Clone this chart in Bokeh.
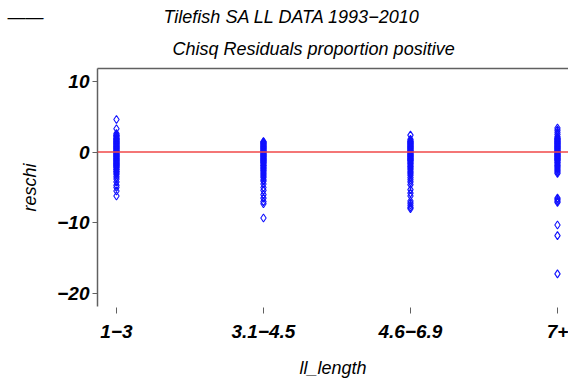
from bokeh.plotting import figure
from bokeh.models import (Span, Title, LinearAxis, FixedTicker, ColumnDataSource, Range1d)
from bokeh.embed import file_html
from bokeh.resources import INLINE

categories = ["1\u22123", "3.1\u22124.5", "4.6\u22126.9", "7+"]

res_1_3 = [4.6, 3.3, 2.6, 2.4, 2.3, 2.2, 2.0, 1.9, 1.8, 1.7, 1.6, 1.5, 1.4, 1.3, 1.2,
           1.1, 1.0, 0.9, 0.8, 0.7, 0.6, 0.5, 0.4, 0.3, 0.2, 0.1, 0.0, -0.1, -0.2,
           -0.3, -0.4, -0.5, -0.6, -0.7, -0.8, -0.9, -1.0, -1.1, -1.2, -1.3, -1.4,
           -1.5, -1.6, -1.7, -1.8, -1.9, -2.0, -2.1, -2.2, -2.4, -2.5, -2.7, -2.8,
           -3.0, -3.2, -3.5, -3.8, -4.2, -4.7, -5.0, -5.5, -6.2]
res_3_4 = [1.5, 1.4, 1.3, 1.2, 1.1, 1.0, 0.9, 0.8, 0.7, 0.6, 0.5, 0.4, 0.3, 0.2, 0.1,
           0.0, -0.1, -0.2, -0.3, -0.4, -0.5, -0.6, -0.7, -0.8, -0.9, -1.0, -1.1,
           -1.2, -1.3, -1.4, -1.5, -1.6, -1.8, -1.9, -2.0, -2.2, -2.3, -2.5, -2.6,
           -2.8, -3.0, -3.2, -3.4, -3.6, -3.9, -4.1, -4.5, -5.0, -5.4, -6.0, -6.5,
           -7.0, -7.3, -9.3]
res_4_6 = [2.4, 1.8, 1.6, 1.5, 1.4, 1.3, 1.2, 1.1, 1.0, 0.9, 0.8, 0.7, 0.6, 0.5, 0.4,
           0.3, 0.2, 0.1, 0.0, -0.1, -0.2, -0.3, -0.4, -0.5, -0.6, -0.7, -0.8, -0.9,
           -1.0, -1.1, -1.2, -1.3, -1.5, -1.6, -1.8, -2.0, -2.1, -2.3, -2.5, -2.7,
           -2.9, -3.1, -3.3, -3.6, -3.9, -4.2, -4.6, -5.3, -5.8, -6.2, -6.9, -7.2,
           -7.5, -7.8, -8.0]
res_7p = [3.4, 3.1, 2.8, 2.5, 2.2, 2.0, 1.9, 1.8, 1.7, 1.6, 1.5, 1.4, 1.3, 1.2, 1.1,
          1.0, 0.9, 0.8, 0.7, 0.6, 0.5, 0.4, 0.3, 0.2, 0.1, 0.0, -0.1, -0.2, -0.3,
          -0.4, -0.5, -0.6, -0.7, -0.8, -0.9, -1.0, -1.1, -1.2, -1.4, -1.5, -1.7,
          -1.9, -2.0, -2.2, -2.4, -2.6, -2.8, -3.0, -6.5, -6.7, -6.9, -7.1, -10.3,
          -11.8, -17.2]

y_ticks = [10, 0, -10, -20]
y_tick_labels = ["10", "0", "\u221210", "\u221220"]

title_1 = "Tilefish SA LL DATA 1993\u22122010"
title_2 = "Chisq Residuals proportion positive"

xs, ys = [], []
for i, vals in enumerate([res_1_3, res_3_4, res_4_6, res_7p]):
    xs += [i + 1] * len(vals)
    ys += vals
src = ColumnDataSource(dict(x=xs, y=ys))

FONT = "Liberation Sans"
AX = "#606060"
NB = "\u00a0"

p = figure(width=568, height=380, output_backend="svg", toolbar_location=None,
           x_range=Range1d(0.871, 4.075), y_range=Range1d(-21.8, 11.8),
           min_border_left=97, min_border_right=0, min_border_top=68,
           min_border_bottom=71)
p.grid.visible = False
p.outline_line_color = None
p.background_fill_color = "white"
p.border_fill_color = "white"

p.add_layout(Span(location=0, dimension="width", line_color="#f04848", line_width=1.5))
p.scatter("x", "y", source=src, marker="diamond", size=8, fill_color=None,
          line_color="#1010ff", line_width=1.1)

# x axis
xa = p.xaxis[0]
xa.ticker = FixedTicker(ticks=[1, 2, 3, 4])
xa.major_label_overrides = {i + 1: c for i, c in enumerate(categories)}
xa.axis_line_color = None
xa.major_tick_line_color = AX
xa.major_tick_in = -1
xa.major_tick_out = 7
xa.minor_tick_line_color = None
xa.major_label_text_font = FONT
xa.major_label_text_font_style = "bold italic"
xa.major_label_text_font_size = "19px"
xa.major_label_text_color = "black"
xa.major_label_standoff = 11
xa.axis_label = "ll_length"
xa.axis_label_text_font = FONT
xa.axis_label_text_font_style = "italic"
xa.axis_label_text_font_size = "18px"
xa.axis_label_text_color = "black"
xa.axis_label_standoff = 17

ya = p.yaxis[0]
ya.ticker = FixedTicker(ticks=y_ticks)
ya.major_label_overrides = dict(zip(y_ticks, y_tick_labels))
ya.axis_line_color = AX
ya.axis_line_width = 1.5
ya.major_tick_line_color = AX
ya.major_tick_in = 0
ya.major_tick_out = 5
ya.minor_tick_line_color = None
ya.major_label_text_font = FONT
ya.major_label_text_font_style = "bold italic"
ya.major_label_text_font_size = "19px"
ya.major_label_text_color = "black"
ya.major_label_standoff = 3
ya.axis_label = "reschi"
ya.axis_label_text_font = FONT
ya.axis_label_text_font_style = "italic"
ya.axis_label_text_font_size = "18px"
ya.axis_label_text_color = "black"
ya.axis_label_standoff = 14

top = LinearAxis(ticker=FixedTicker(ticks=[]), axis_line_color=AX, axis_line_width=1.5,
                 major_tick_line_color=None, minor_tick_line_color=None,
                 major_label_text_font_size="0px")
p.add_layout(top, "above")

p.add_layout(Title(text=title_2, align="left", offset=75,
                   text_font=FONT, text_font_style="italic", text_font_size="18px",
                   text_color="black", standoff=19), "above")
# first title line, with the short key line at the far left
p.add_layout(Title(text="\u2014\u2014" + NB * 24 + title_1, align="left", offset=-90,
                   text_font=FONT, text_font_style="italic", text_font_size="18px",
                   text_color="black", standoff=1), "above")

open("out.html", "w").write(file_html(p, INLINE))
